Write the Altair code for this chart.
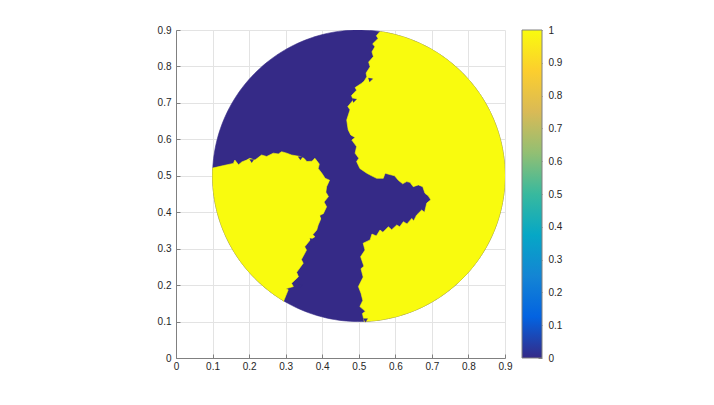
import numpy as np
import pandas as pd
import altair as alt

# ---------------- data ----------------
CENTER = (0.5, 0.5)
RADIUS = 0.4
# arc spans (degrees) of the disk boundary owned by each yellow region
RIGHT_ARC = (81.7, -87.9)
LEFT_ARC = (177.0, 239.2)

# jagged blue/yellow interface of the right yellow region (bottom -> top)
RIGHT_EDGE_X = [0.515, 0.510, 0.518, 0.503, 0.511, 0.506, 0.499, 0.512, 0.506, 0.514, 0.505,
                0.517, 0.512, 0.531, 0.536, 0.548, 0.558, 0.566, 0.581, 0.590, 0.604, 0.612, 0.622,
                0.632, 0.645, 0.650, 0.658, 0.672, 0.680, 0.686, 0.697, 0.690, 0.681, 0.675,
                0.663, 0.649, 0.640, 0.631, 0.620, 0.608, 0.598, 0.590, 0.572, 0.567, 0.549,
                0.535, 0.522, 0.503, 0.494, 0.500, 0.490, 0.494, 0.481, 0.490, 0.478, 0.471, 0.467,
                0.476, 0.470, 0.485, 0.480, 0.494, 0.490, 0.508, 0.515, 0.522, 0.520, 0.531, 0.527,
                0.540, 0.536, 0.544, 0.538, 0.553, 0.548, 0.558]
RIGHT_EDGE_Y = [0.100, 0.122, 0.128, 0.141, 0.158, 0.178, 0.196, 0.222, 0.245, 0.252, 0.278,
                0.296, 0.315, 0.324, 0.340, 0.335, 0.351, 0.345, 0.360, 0.352, 0.365, 0.360, 0.374,
                0.368, 0.383, 0.376, 0.392, 0.406, 0.400, 0.425, 0.434, 0.445, 0.452, 0.470,
                0.475, 0.470, 0.482, 0.484, 0.478, 0.488, 0.500, 0.502, 0.507, 0.493, 0.493,
                0.500, 0.507, 0.520, 0.539, 0.548, 0.562, 0.580, 0.598, 0.605, 0.612, 0.626, 0.653,
                0.681, 0.690, 0.708, 0.720, 0.735, 0.742, 0.754, 0.760, 0.772, 0.782, 0.799, 0.812,
                0.827, 0.840, 0.854, 0.862, 0.877, 0.884, 0.896]

# jagged interface of the left yellow region (bottom -> top-left)
LEFT_EDGE_X = [0.294, 0.307, 0.300, 0.321, 0.316, 0.335, 0.330, 0.348, 0.343, 0.357, 0.352,
               0.367, 0.380, 0.374, 0.385, 0.389, 0.399, 0.393, 0.403, 0.412, 0.405, 0.417, 0.410,
               0.412, 0.420, 0.408, 0.399, 0.389, 0.392, 0.380, 0.372, 0.358, 0.350, 0.339, 0.316,
               0.303, 0.289, 0.280, 0.266, 0.248, 0.234, 0.216, 0.202, 0.193, 0.180, 0.171,
               0.161, 0.157, 0.130, 0.100]
LEFT_EDGE_Y = [0.155, 0.187, 0.190, 0.196, 0.205, 0.223, 0.235, 0.260, 0.270, 0.296, 0.305,
               0.324, 0.333, 0.338, 0.351, 0.365, 0.388, 0.392, 0.396, 0.415, 0.428, 0.443, 0.455,
               0.470, 0.488, 0.493, 0.507, 0.520, 0.532, 0.548, 0.540, 0.539, 0.548, 0.553, 0.557,
               0.562, 0.566, 0.560, 0.562, 0.553, 0.557, 0.543, 0.548, 0.543, 0.538, 0.530,
               0.543, 0.534, 0.528, 0.521]

# small blue mesh triangles left inside the yellow regions (3 vertices each)
SPECK_X = [0.394, 0.406, 0.398,
           0.366, 0.378, 0.369,
           0.351, 0.363, 0.354,
           0.334, 0.346, 0.337,
           0.512, 0.524, 0.518,
           0.526, 0.538, 0.529,
           0.482, 0.494, 0.485,
           0.201, 0.213, 0.207,
           0.334, 0.346, 0.340]
SPECK_Y = [0.390, 0.388, 0.380,
           0.328, 0.326, 0.318,
           0.268, 0.266, 0.258,
           0.202, 0.200, 0.192,
           0.108, 0.108, 0.098,
           0.768, 0.766, 0.757,
           0.712, 0.710, 0.701,
           0.545, 0.545, 0.536,
           0.552, 0.552, 0.543]

TICKS_XY = [0, 0.1, 0.2, 0.3, 0.4, 0.5, 0.6, 0.7, 0.8, 0.9]
TICKS_CB = [0, 0.1, 0.2, 0.3, 0.4, 0.5, 0.6, 0.7, 0.8, 0.9, 1]

PARULA = ["#352a87", "#0363e1", "#1485d4", "#06a7c6", "#38b99e",
          "#92bf73", "#d9ba56", "#fcce2e", "#f9fb0e"]
BLUE = PARULA[0]
YELLOW = PARULA[-1]


def arc(a0, a1, n=120):
    t = np.radians(np.linspace(a0, a1, n))
    return list(CENTER[0] + RADIUS * np.cos(t)), list(CENTER[1] + RADIUS * np.sin(t))


rows = []
dx, dy = arc(0, 360, 240)
for i, (x, y) in enumerate(zip(dx, dy)):
    rows.append({"region": "disk", "i": i, "x": x, "y": y})

rx, ry = arc(*RIGHT_ARC)
rx += RIGHT_EDGE_X
ry += RIGHT_EDGE_Y
for i, (x, y) in enumerate(zip(rx, ry)):
    rows.append({"region": "right", "i": i, "x": x, "y": y})

lx, ly = arc(*LEFT_ARC)
lx += LEFT_EDGE_X
ly += LEFT_EDGE_Y
for i, (x, y) in enumerate(zip(lx, ly)):
    rows.append({"region": "left", "i": i, "x": x, "y": y})

for k, (x, y) in enumerate(zip(SPECK_X, SPECK_Y)):
    rows.append({"region": f"speck{k // 3}", "i": k % 3, "x": x, "y": y})

df = pd.DataFrame(rows)

FONT = "Liberation Sans"
LABEL_COLOR = "#262626"
AXIS_COLOR = "#808080"
GRID_COLOR = "#e3e3e3"

xscale = alt.Scale(domain=[0, 0.9], nice=False, zero=False)
yscale = alt.Scale(domain=[0, 0.9], nice=False, zero=False)


def make_axis(pad):
    return alt.Axis(values=TICKS_XY, format="~g", title=None, grid=True,
                    labelOverlap=False, labelFlush=False,
                    gridColor=GRID_COLOR, domainColor=AXIS_COLOR, tickColor=AXIS_COLOR,
                    tickSize=alt.ExprRef(expr="-4"), labelPadding=pad,
                    labelFont=FONT, labelFontSize=10, labelColor=LABEL_COLOR)


def enc(chart):
    return chart.encode(
        x=alt.X("x:Q", scale=xscale, axis=make_axis(7)),
        y=alt.Y("y:Q", scale=yscale, axis=make_axis(9)),
        detail="region:N",
        order=alt.Order("i:Q"),
    )


base = alt.Chart(df)

disk = enc(base.transform_filter(alt.datum.region == "disk").mark_line(
    fill=BLUE, stroke=BLUE, strokeWidth=0.6, clip=True))

yellow = enc(base.transform_filter(
    (alt.datum.region == "right") | (alt.datum.region == "left")).mark_line(
    fill=YELLOW, stroke=YELLOW, strokeWidth=0.6, clip=True))

specks = enc(base.transform_filter(
    "indexof(datum.region, 'speck') == 0").mark_line(
    fill=BLUE, stroke=BLUE, strokeWidth=0.4, clip=True))

main = alt.layer(disk, yellow, specks).properties(width=329, height=328)

# ---------------- colorbar ----------------
cb_df = pd.DataFrame({"lo": [0], "hi": [1], "x0": [0], "x1": [1]})
stops = [alt.GradientStop(color=c, offset=k / (len(PARULA) - 1)) for k, c in enumerate(PARULA)]
cbar = alt.Chart(cb_df).mark_rect(
    fill=alt.Gradient(gradient="linear", stops=stops, x1=0, x2=0, y1=1, y2=0),
    stroke=AXIS_COLOR, strokeWidth=1,
).encode(
    x=alt.X("x0:Q", scale=alt.Scale(domain=[0, 1], nice=False), axis=None),
    x2="x1:Q",
    y=alt.Y("lo:Q", scale=alt.Scale(domain=[0, 1], nice=False),
            axis=alt.Axis(orient="right", values=TICKS_CB, format="~g", title=None,
                          grid=False, domain=False, tickColor=AXIS_COLOR,
                          labelOverlap=False, labelFlush=False,
                          tickSize=alt.ExprRef(expr="-4"), labelPadding=10,
                          labelFont=FONT, labelFontSize=10, labelColor=LABEL_COLOR)),
    y2="hi:Q",
).properties(width=20, height=328)

chart = alt.hconcat(main, cbar, spacing=17, bounds="flush").properties(
    padding={"left": 149, "top": 17, "right": 5, "bottom": 5}
).configure_view(strokeWidth=0)

chart.save("out.html", embed_options={"renderer": "svg", "actions": False})
